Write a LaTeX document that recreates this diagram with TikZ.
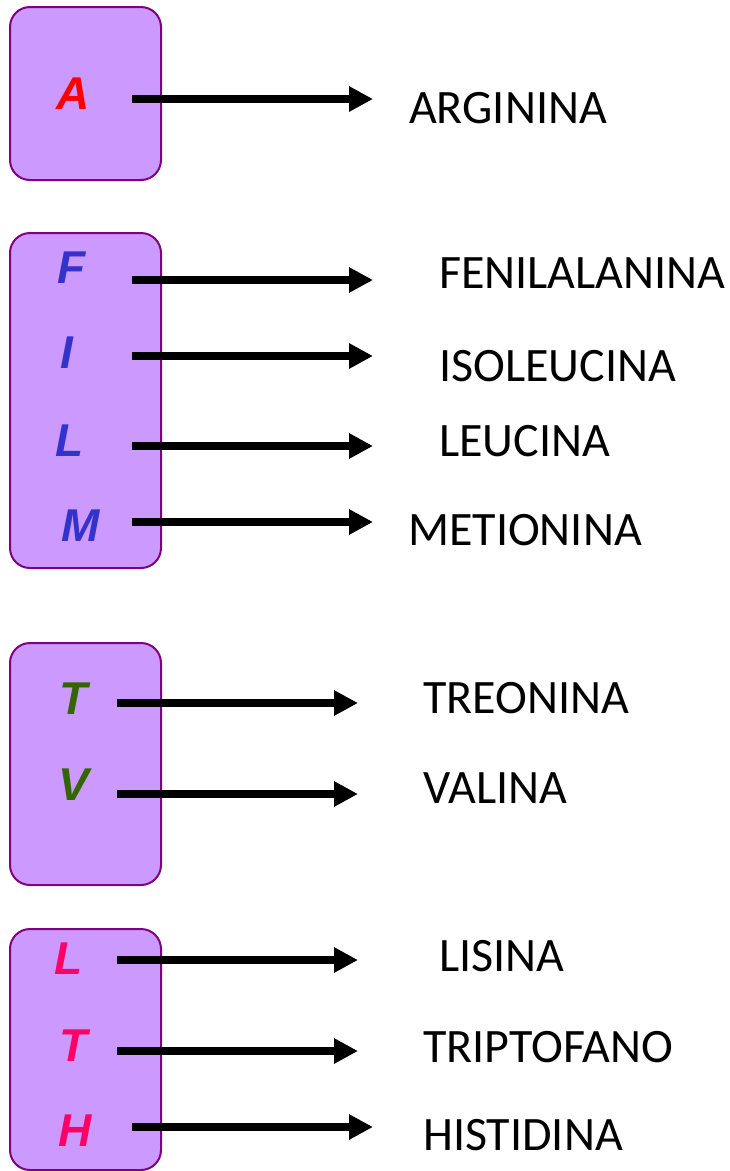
\documentclass[tikz,border=0pt]{standalone}
\usepackage{fontspec}
\setmainfont{Carlito}
\newfontfamily\codefont{Liberation Sans}
\usetikzlibrary{arrows.meta}

\definecolor{boxfill}{HTML}{CC99FF}
\definecolor{boxline}{HTML}{800080}
\definecolor{codered}{HTML}{FF0000}
\definecolor{codeblue}{HTML}{3333CC}
\definecolor{codegreen}{HTML}{336600}
\definecolor{codepink}{HTML}{FF0066}

\tikzset{
	groupbox/.style={draw=boxline, fill=boxfill, line width=2pt, rounded corners=20pt,
		minimum width=151pt, inner sep=0pt},
	letter/.style={anchor=base, inner sep=0pt, font=\codefont\bfseries\itshape\fontsize{46}{48}\selectfont},
	aminame/.style={anchor=base west, inner sep=0pt, font=\fontsize{48}{50}\selectfont},
	link/.style={line width=8pt, -{Triangle[length=24pt,width=24pt]}}
}

\begin{document}
\begin{tikzpicture}[x=1pt, y=-1pt]
		\useasboundingbox (0,0) rectangle (729,1171);

		% Define nodes
		\node[groupbox, minimum height=173pt] (G1) at (85.5,93.5) {};
		\node[groupbox, minimum height=335pt] (G2) at (85.5,400.5) {};
		\node[groupbox, minimum height=242pt] (G3) at (85.5,764) {};
		\node[groupbox, minimum height=241pt] (G4) at (85.5,1049.5) {};

		\node[letter, text=codered] (A) at (73,109) {A};
		\node[letter, text=codeblue] (F) at (72,283) {F};
		\node[letter, text=codeblue] (I) at (67,368) {I};
		\node[letter, text=codeblue] (L) at (70,456) {L};
		\node[letter, text=codeblue] (M) at (81,541) {M};
		\node[letter, text=codegreen] (T) at (74,714) {T};
		\node[letter, text=codegreen] (V) at (74,800) {V};
		\node[letter, text=codepink] (Lk) at (69,974) {L};
		\node[letter, text=codepink] (Tk) at (74,1061) {T};
		\node[letter, text=codepink] (H) at (75,1146) {H};

		\node[aminame] (arg) at (409,123) {ARGININA};
		\node[aminame] (phe) at (439,288) {FENILALANINA};
		\node[aminame] (ile) at (439,381) {ISOLEUCINA};
		\node[aminame] (leu) at (439,456) {LEUCINA};
		\node[aminame] (met) at (408,545) {METIONINA};
		\node[aminame] (thr) at (423,713) {TREONINA};
		\node[aminame] (val) at (423,803) {VALINA};
		\node[aminame] (lys) at (439,971) {LISINA};
		\node[aminame] (trp) at (423,1062) {TRIPTOFANO};
		\node[aminame] (his) at (423,1150) {HISTIDINA};

		% Arrow ends
		\foreach \n/\y/\xa/\xb in {1/99/132/373, 2/280/132/373, 3/356/132/373, 4/446/132/373,
			5/522/132/373, 6/703/117/358, 7/794/117/358, 8/960/117/358, 9/1051/117/358, 10/1127/132/373}{
			\coordinate (s\n) at (\xa,\y);
			\coordinate (e\n) at (\xb,\y);
		}

		% Connect the nodes
		\foreach \n in {1,...,10}
			\draw[link] (s\n) -- (e\n);
	\end{tikzpicture}
\end{document}
